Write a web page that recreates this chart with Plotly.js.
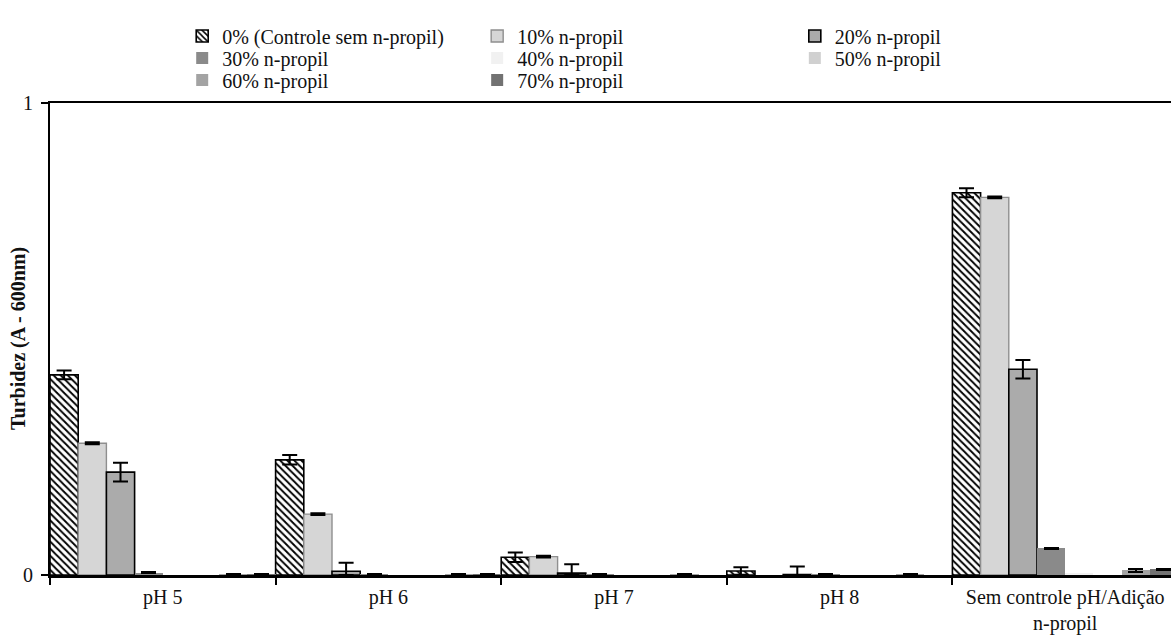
<!DOCTYPE html>
<html>
<head>
<meta charset="utf-8">
<script src="https://cdn.plot.ly/plotly-3.0.1.min.js"></script>
<style>
html,body{margin:0;padding:0;overflow:hidden;background:#fff;}
#chart{width:1190px;height:635px;}
</style>
</head>
<body>
<div id="chart"></div>
<script>
// Categories (x axis)
const categories = ["pH 5", "pH 6", "pH 7", "pH 8", "Sem controle pH/Adição<br>n-propil"];

// Series names (legend)
const seriesNames = ["0% (Controle sem n-propil)", "10% n-propil", "20% n-propil", "30% n-propil",
                     "40% n-propil", "50% n-propil", "60% n-propil", "70% n-propil"];

// Turbidity values (A 600nm)
const v0  = [0.424, 0.244, 0.0375, 0.0085, 0.810];
const v10 = [0.279, 0.129, 0.039, null, 0.800];
const v20 = [0.218, 0.008, 0.004, 0.001, 0.436];
const v30 = [0.005, 0.002, 0.002, 0.002, 0.0565];
const v40 = [null, null, null, null, 0.004];
const v50 = [null, null, null, null, null];
const v60 = [0.002, 0.003, 0.002, 0.002, 0.010];
const v70 = [0.002, 0.002, null, null, 0.012];

// Error bars (plus / minus); NaN = no error bar drawn
const e0   = [0.0095, 0.010, 0.010, 0.008, 0.0095];
const e10  = [0.002, 0.002, 0.002, NaN, 0.002];
const e20  = [0.020, 0.018, 0.019, 0.017, 0.0195];
const e20m = [0.020, 0.008, 0.004, 0.001, 0.0195];
const e30  = [0.001, 0, 0, 0, 0.001];
const e40  = [NaN, NaN, NaN, NaN, NaN];
const e50  = [NaN, NaN, NaN, NaN, NaN];
const e60  = [0, 0, 0, 0, 0.003];
const e70  = [0, 0, NaN, NaN, 0.001];

const values = [v0, v10, v20, v30, v40, v50, v60, v70];
const errPlus = [e0, e10, e20, e30, e40, e50, e60, e70];
const errMinus = [e0, e10, e20m, e30, e40, e50, e60, e70];

const fills = ["#ffffff", "#d6d6d6", "#ababab", "#8a8a8a", "#f1f1f1", "#d0d0d0", "#a3a3a3", "#727272"];
const lines = ["#000000", "#8f8f8f", "#000000", "#8a8a8a", "#f1f1f1", "#d0d0d0", "#a3a3a3", "#727272"];
const lineW = [1.6, 1.4, 1.6, 0, 0, 0, 0, 0];

// Legend grid: 3 columns, filled row by row (one legend box per entry)
const legendCols = [0.1172, 0.3787, 0.6603];
const legendRows = [1.142, 1.0953, 1.0487];

const traces = values.map((vals, i) => {
  const t = {
    type: "bar",
    name: seriesNames[i],
    legend: i === 0 ? "legend" : "legend" + (i + 1),
    x: categories,
    y: vals,
    marker: {
      color: fills[i],
      line: {color: lines[i], width: lineW[i]}
    },
    error_y: {
      type: "data",
      symmetric: false,
      array: errPlus[i],
      arrayminus: errMinus[i],
      color: "#000000",
      thickness: 2,
      width: 7.5,
      visible: true
    }
  };
  if (i === 0) {
    t.marker.pattern = {shape: "\\", fgcolor: "#000000", bgcolor: "#ffffff", size: 5, solidity: 0.38};
  }
  return t;
});

const serif = "'Liberation Serif', 'DejaVu Serif', serif";
const legFont = {family: serif, size: 20, color: "#111"};

const layout = {
  width: 1190,
  height: 635,
  margin: {l: 50, r: 12, t: 103, b: 60},
  paper_bgcolor: "#ffffff",
  plot_bgcolor: "#ffffff",
  barmode: "group",
  bargap: 0,
  bargroupgap: 0,
  font: {family: serif, size: 20, color: "#111"},
  showlegend: true,
  xaxis: {
    type: "category",
    showline: true,
    linecolor: "#000",
    linewidth: 2.5,
    mirror: true,
    ticks: "outside",
    tickson: "boundaries",
    ticklen: 7,
    tickwidth: 2,
    tickcolor: "#000",
    showgrid: false,
    tickfont: {family: serif, size: 20, color: "#111"},
    ticklabelstandoff: 2,
    automargin: false
  },
  yaxis: {
    range: [0, 1],
    tickvals: [0, 1],
    ticktext: ["0", "1"],
    showline: true,
    linecolor: "#000",
    linewidth: 2,
    ticks: "outside",
    ticklen: 7,
    tickwidth: 2,
    tickcolor: "#000",
    showgrid: false,
    zeroline: false,
    tickfont: {family: serif, size: 20, color: "#111"},
    ticklabelstandoff: 4,
    automargin: false
  },
  annotations: [{
    text: "<b>Turbidez (A - 600nm)</b>",
    textangle: -90,
    xref: "paper", yref: "paper",
    x: 0, y: 0.5,
    xanchor: "center", yanchor: "middle",
    xshift: -32,
    showarrow: false,
    font: {family: serif, size: 20, color: "#111"}
  }]
};

seriesNames.forEach((n, i) => {
  const key = i === 0 ? "legend" : "legend" + (i + 1);
  layout[key] = {
    orientation: "v",
    x: legendCols[i % 3], xanchor: "left",
    y: legendRows[Math.floor(i / 3)], yanchor: "middle",
    bgcolor: "rgba(0,0,0,0)", font: legFont, itemwidth: 30
  };
});

Plotly.newPlot("chart", traces, layout, {displayModeBar: false, staticPlot: true});
</script>
</body>
</html>
